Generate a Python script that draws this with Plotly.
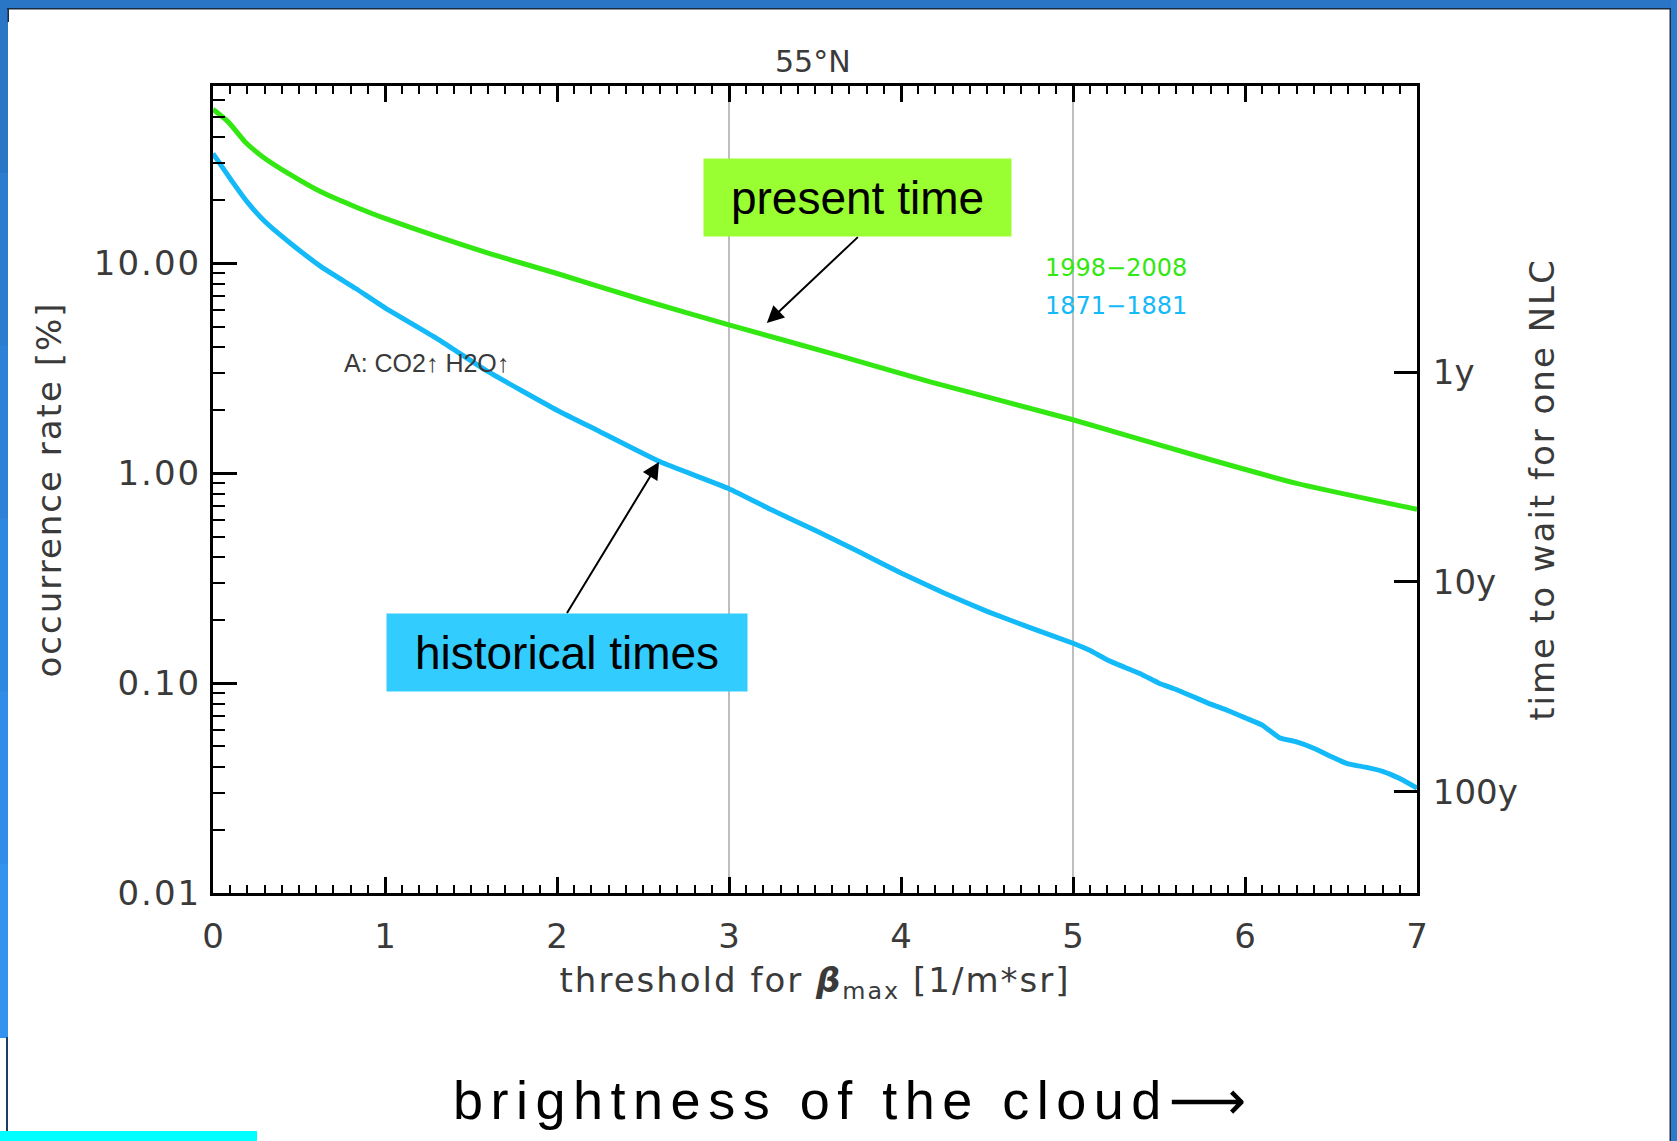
import plotly.graph_objects as go

# ---- data: NLC occurrence rate vs. backscatter threshold (55°N) ----
green_x = [0, 0.09, 0.19, 0.29, 0.44, 0.63, 0.83, 1.0, 1.31, 1.6, 2.0, 2.5,
           3.0, 3.63, 4.17, 5.0, 5.77, 6.3, 7.0]
green_rate = [54.3, 47.2, 37.7, 32.2, 26.8, 21.9, 18.6, 16.4, 13.4, 11.2, 8.96, 6.7,
              5.1, 3.66, 2.73, 1.80, 1.18, 0.896, 0.674]

blue_x = [0, 0.1, 0.2, 0.3, 0.45, 0.63, 0.83, 1.0, 1.3, 1.6, 2.0, 2.25, 2.6, 3.0, 3.25,
          3.5, 3.75, 4.0, 4.25, 4.5, 4.75, 5.0, 5.1, 5.2, 5.3, 5.4, 5.5, 5.6, 5.7, 5.8,
          5.9, 6.0, 6.1, 6.2, 6.3, 6.4, 6.5, 6.6, 6.7, 6.8, 6.9, 7.0]
blue_rate = [33.4, 25.4, 19.6, 15.9, 12.5, 9.64, 7.6, 6.15, 4.4, 3.05, 2.0, 1.58, 1.135,
             0.845, 0.668, 0.535, 0.425, 0.335, 0.269, 0.22, 0.184, 0.155, 0.143, 0.129,
             0.119, 0.110, 0.100, 0.0933, 0.0861, 0.0794, 0.0741, 0.0684, 0.0631, 0.0550,
             0.0525, 0.0490, 0.0447, 0.0412, 0.0398, 0.0380, 0.0351, 0.0316]

green_label = "1998−2008"
blue_label = "1871−1881"

x_ticks = [0, 1, 2, 3, 4, 5, 6, 7]
y_ticks = [0.01, 0.1, 1, 10]
y_ticktext = ["0.01", "0.10", "1.00", "10.00"]
marked_thresholds = [3, 5]

# right axis: waiting time for one NLC; 1 year corresponds to this rate [%]
rate_one_per_year = 3.04
wait_years = [1, 10, 100]
wait_text = ["1y", "10y", "100y"]

# ---- figure geometry (pixels) ----
W, H = 1677, 1141
PL, PR, PT, PB = 213, 1417, 86, 893


def fx(px):
    return (px - PL) / (PR - PL)


def fy(py):
    return (PB - py) / (PB - PT)


def spaced(text, px=2):
    return f'<span style="letter-spacing:{px}px">{text}</span>'


GREEN = "#33e812"
BLUE = "#14b9f8"
GREY_TXT = "#3a3a3a"
FAMILY = "DejaVu Sans"
TICK_FONT = dict(family=FAMILY, size=34, color=GREY_TXT)
TITLE_FONT = dict(family=FAMILY, size=34, color=GREY_TXT)
Y_RANGE = [-2, 1.846]

fig = go.Figure()
fig.add_trace(go.Scatter(x=green_x, y=green_rate, mode="lines", name=green_label,
                         line=dict(color=GREEN, width=5, shape="spline", smoothing=0.5),
                         showlegend=False, hoverinfo="skip"))
fig.add_trace(go.Scatter(x=blue_x, y=blue_rate, mode="lines", name=blue_label,
                         line=dict(color=BLUE, width=5, shape="spline", smoothing=0.4),
                         showlegend=False, hoverinfo="skip"))
# carrier trace so the waiting-time axis is drawn
fig.add_trace(go.Scatter(x=[None], y=[None], yaxis="y2", showlegend=False, hoverinfo="skip"))

minor_y = [m * d for d in (0.01, 0.1, 1, 10) for m in range(2, 10) if m * d < 70]

shapes = []
# vertical reference lines
for t in marked_thresholds:
    shapes.append(dict(type="line", xref="x", yref="paper", x0=t, x1=t, y0=0, y1=1,
                       line=dict(color="#a8a8a8", width=1.5), layer="below"))


# slide frame: blue border strips around the white panel
def prect(x0, y0, x1, y1, color):
    return dict(type="rect", xref="paper", yref="paper", x0=fx(x0), x1=fx(x1),
                y0=fy(y1), y1=fy(y0), fillcolor=color, line=dict(width=0), layer="above")


shapes.append(prect(0, 0, W, 8, "#2a75c5"))
left_cols = ["#2a76c6", "#2c7ccf", "#2d82d8", "#2f88e0", "#318ee8", "#3393ef"]
seg = 1037 / len(left_cols)
for i, c in enumerate(left_cols):
    shapes.append(prect(0, i * seg, 8, (i + 1) * seg + 1, c))
shapes.append(prect(1671, 0, W, H, "#2b7acb"))
shapes.append(prect(7, 8, 1671, 9.5, "#1a2a40"))
shapes.append(prect(7.5, 8, 9, 22, "#1a2a40"))
shapes.append(prect(1669.5, 8, 1671, H, "#1a2a40"))
shapes.append(prect(6, 1037, 8, 1131, "#1d3c66"))
shapes.append(prect(0, 1131, 257, H, "#00ffff"))


def label(text, px, py, size, color, family=FAMILY, xanchor="center"):
    return dict(text=text, xref="paper", yref="paper", x=fx(px), y=fy(py),
                xanchor=xanchor, yanchor="middle", showarrow=False,
                font=dict(family=family, size=size, color=color))


annotations = [
    label("55°N", 813, 61, 30, GREY_TXT),
    label("A: CO2↑ H2O↑", 342, 363, 25, GREY_TXT, family="Liberation Sans", xanchor="left"),
    label(green_label, 1043, 268, 24, GREEN, xanchor="left"),
    label(blue_label, 1043, 306, 24, BLUE, xanchor="left"),
    # callout boxes; the arrow leaves from the middle of the box edge facing the curve
    dict(text="present time", x=3.22, y=0.716, xref="x", yref="y",
         showarrow=True, ax=91, ay=-86, xanchor="center", yanchor="bottom",
         arrowhead=2, arrowsize=1.7, arrowwidth=2, arrowcolor="black", standoff=0,
         bgcolor="#99ff33", width=307, height=77, borderpad=0,
         font=dict(family="Liberation Sans", size=46, color="black")),
    dict(text="historical times", x=2.593, y=0.054, xref="x", yref="y",
         showarrow=True, ax=-92, ay=151, xanchor="center", yanchor="top",
         arrowhead=2, arrowsize=1.7, arrowwidth=2, arrowcolor="black", standoff=0,
         bgcolor="#33ccff", width=360, height=77, borderpad=0,
         font=dict(family="Liberation Sans", size=46, color="black")),
    label('<span style="letter-spacing:7.5px">brightness of the cloud'
          '<span style="font-family:DejaVu Sans">⟶</span></span>',
          853, 1100, 54, "black", family="Liberation Sans"),
]

axis_common = dict(showline=True, linewidth=3, linecolor="black", showgrid=False,
                   zeroline=False, tickcolor="black", tickfont=TICK_FONT)

fig.update_layout(
    width=W, height=H, autosize=False,
    margin=dict(l=PL, r=W - PR, t=PT, b=H - PB, pad=0),
    paper_bgcolor="white", plot_bgcolor="white",
    showlegend=False,
    xaxis=dict(range=[0, 7], tickvals=x_ticks, ticks="inside", ticklen=16, tickwidth=2.5,
               mirror="ticks", ticklabelstandoff=11,
               minor=dict(dtick=0.1, tick0=0, ticks="inside", ticklen=8, tickwidth=1.5,
                          tickcolor="black", showgrid=False),
               title=dict(text=spaced('threshold for <b><i>β</i></b><sub>max</sub> [1/m*sr]'),
                          font=TITLE_FONT, standoff=14),
               **axis_common),
    yaxis=dict(type="log", range=Y_RANGE, tickvals=y_ticks,
               ticktext=[spaced(t) for t in y_ticktext],
               ticks="inside", ticklen=24, tickwidth=2.5, ticklabelstandoff=2,
               minor=dict(tickvals=minor_y, ticks="inside", ticklen=12, tickwidth=2,
                          tickcolor="black", showgrid=False),
               title=dict(text=spaced("occurrence rate [%]"), font=TITLE_FONT, standoff=22),
               **axis_common),
    yaxis2=dict(type="log", range=Y_RANGE, overlaying="y", side="right", anchor="x",
                tickvals=[rate_one_per_year / w for w in wait_years], ticktext=wait_text,
                ticks="inside", ticklen=23, tickwidth=2.5, ticklabelstandoff=6,
                title=dict(text=spaced("time to wait for one NLC"), font=TITLE_FONT,
                           standoff=14),
                **axis_common),
    shapes=shapes,
    annotations=annotations,
)

fig.write_html("out.html", config={"displayModeBar": False})
